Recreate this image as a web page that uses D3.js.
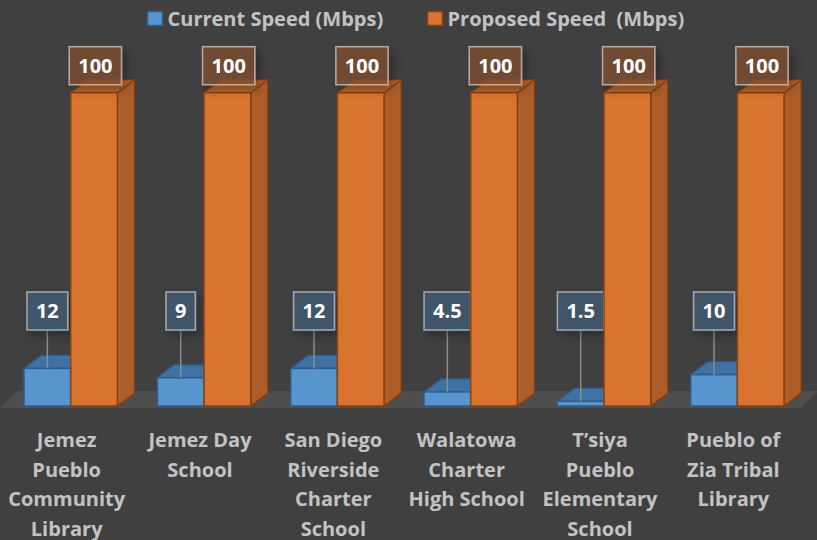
<!DOCTYPE html>
<html>
<head>
<meta charset="utf-8">
<script src="https://cdn.jsdelivr.net/npm/d3@7"></script>
<style>
  html, body { margin: 0; padding: 0; background: #404040; }
  svg { display: block; }
</style>
</head>
<body>
<svg id="chart" width="817" height="540"></svg>
<script>
// Current vs proposed connection speed, 3D clustered columns on dark background.

const categories = [
  "Jemez Pueblo Community Library",
  "Jemez Day School",
  "San Diego Riverside Charter School",
  "Walatowa Charter High School",
  "T’siya Pueblo Elementary School",
  "Pueblo of Zia Tribal Library",
];
const categoryLines = [
  ["Jemez", "Pueblo", "Community", "Library"],
  ["Jemez Day", "School"],
  ["San Diego", "Riverside", "Charter", "School"],
  ["Walatowa", "Charter", "High School"],
  ["T’siya", "Pueblo", "Elementary", "School"],
  ["Pueblo of", "Zia Tribal", "Library"],
];
const seriesNames = ["Current Speed (Mbps)", "Proposed Speed  (Mbps)"];
const currentSpeed = [12, 9, 12, 4.5, 1.5, 10];
const proposedSpeed = [100, 100, 100, 100, 100, 100];

const W = 817, H = 540;
const BASE_Y = 406, TOP_Y = 92.7;
const DX = 17, DY = 13;          // depth of the 3D columns
const FONT = "'Open Sans', 'DejaVu Sans', sans-serif";

const colors = {
  current:  { front: "#5894cd", top: "#3f71a3", side: "#3d6b98", edge: "#2c5d8e",
              box: "#445e78", boxEdge: "#a3abb3" },
  proposed: { front: "#d8742f", top: "#b9652c", side: "#ad5e28", edge: "#8a3f0e",
              box: "#825035", boxEdge: "#b9aaa0" },
};

const svg = d3.select("#chart");

const defs = svg.append("defs");
defs.append("filter").attr("id", "shadow")
  .attr("x", "-50%").attr("y", "-50%").attr("width", "200%").attr("height", "200%")
  .append("feDropShadow")
  .attr("dx", 4).attr("dy", 4).attr("stdDeviation", 5)
  .attr("flood-color", "#000").attr("flood-opacity", 0.4);

const x0 = d3.scaleBand().domain(categories).range([0, 800]);
const x1 = d3.scaleBand().domain(["current", "proposed"]).range([24, 117.4]);
const y = d3.scaleLinear().domain([0, 100]).range([BASE_Y, TOP_Y]);

const rows = categories.map((c, i) => ({
  cat: c, lines: categoryLines[i],
  bars: [
    { key: "current", value: currentSpeed[i] },
    { key: "proposed", value: proposedSpeed[i] },
  ],
}));

// floor
const fx0 = x0.range()[0], fx1 = x0.range()[1] + 1;
svg.append("path")
  .attr("d", `M${fx0},${BASE_Y + 2}L${fx1},${BASE_Y + 2}L${fx1 + DX},${BASE_Y - DY - 2}L${fx0 + DX},${BASE_Y - DY - 2}Z`)
  .attr("fill", "#4e4e4e");

// columns
const group = svg.selectAll("g.cat").data(rows).enter().append("g")
  .attr("class", "cat")
  .attr("transform", (d) => `translate(${x0(d.cat)},0)`);

const bar = group.selectAll("g.bar").data((d) => d.bars).enter().append("g")
  .attr("class", "bar");

const w = x1.bandwidth();
bar.append("path") // side
  .attr("d", (d) => {
    const xa = x1(d.key) + w, yt = y(d.value);
    return `M${xa},${yt}L${xa + DX},${yt - DY}L${xa + DX},${BASE_Y - DY}L${xa},${BASE_Y}Z`;
  })
  .attr("fill", (d) => colors[d.key].side)
  .attr("stroke", (d) => colors[d.key].edge).attr("stroke-width", 1.2)
  .attr("stroke-linejoin", "round");
bar.append("path") // top
  .attr("d", (d) => {
    const xa = x1(d.key), yt = y(d.value);
    return `M${xa},${yt}L${xa + DX},${yt - DY}L${xa + w + DX},${yt - DY}L${xa + w},${yt}Z`;
  })
  .attr("fill", (d) => colors[d.key].top)
  .attr("stroke", (d) => colors[d.key].edge).attr("stroke-width", 1.2)
  .attr("stroke-linejoin", "round");
bar.append("rect") // front
  .attr("x", (d) => x1(d.key))
  .attr("y", (d) => y(d.value))
  .attr("width", w)
  .attr("height", (d) => BASE_Y - y(d.value))
  .attr("fill", (d) => colors[d.key].front)
  .attr("stroke", (d) => colors[d.key].edge).attr("stroke-width", 1.5);

// data labels
const LABEL_H = 38, PAD = 9;
const currentLabelY = 311;   // current-speed labels were pulled up to one height

bar.filter((d) => d.key === "current").append("line")
  .attr("x1", (d) => x1(d.key) + w / 2).attr("x2", (d) => x1(d.key) + w / 2)
  .attr("y1", currentLabelY + LABEL_H / 2).attr("y2", (d) => y(d.value))
  .attr("stroke", "#8c8c8c").attr("stroke-width", 1.5);

const label = bar.append("g")
  .attr("transform", (d) => d.key === "current"
    ? `translate(${x1(d.key) + w / 2},${currentLabelY})`
    : `translate(${x1(d.key) + w / 2 + 1.3},${y(d.value) - 27})`);

label.append("rect")
  .attr("fill", (d) => colors[d.key].box)
  .attr("fill-opacity", 0.72)
  .attr("stroke", (d) => colors[d.key].boxEdge).attr("stroke-width", 1.5)
  .attr("filter", "url(#shadow)");
const labelText = label.append("text")
  .attr("text-anchor", "middle").attr("dy", "0.36em")
  .style("font", `bold 20px ${FONT}`).style("fill", "#fff")
  .text((d) => d.value);
labelText.each(function () {
  const tw = this.getComputedTextLength();
  d3.select(this.parentNode).select("rect")
    .attr("x", -tw / 2 - PAD).attr("y", -LABEL_H / 2)
    .attr("width", tw + PAD * 2).attr("height", LABEL_H);
});

// category labels
const catText = group.append("text")
  .attr("text-anchor", "middle")
  .attr("transform", `translate(${x0.bandwidth() / 2},0)`)
  .style("font", `bold 20px ${FONT}`).style("fill", "#c3c3c3");
catText.selectAll("tspan").data((d) => d.lines).enter().append("tspan")
  .attr("x", 0).attr("y", (d, i) => 447 + i * 29.5)
  .text((d) => d);

// legend
const legend = svg.append("g").attr("class", "legend");
const legendX = [147, 427];
seriesNames.forEach((name, i) => {
  const key = i === 0 ? "current" : "proposed";
  const g = legend.append("g").attr("transform", `translate(${legendX[i]},0)`);
  g.append("rect").attr("x", 0.5).attr("y", 11.5).attr("width", 15).attr("height", 14)
    .attr("fill", colors[key].front).attr("stroke", colors[key].edge).attr("stroke-width", 1.5);
  g.append("text").attr("x", 20.5).attr("y", 26)
    .attr("xml:space", "preserve").style("white-space", "pre")
    .style("font", `bold 20px ${FONT}`).style("fill", "#c3c3c3")
    .text(name);
});
</script>
</body>
</html>
